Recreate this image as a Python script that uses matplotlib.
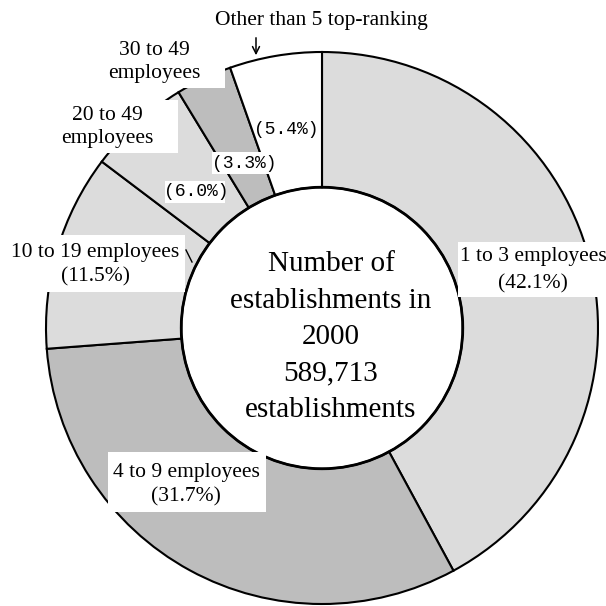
import numpy as np
import matplotlib
matplotlib.use("Agg")
import matplotlib.pyplot as plt
from matplotlib.patches import Rectangle, Circle

# ====== Data =======
groups = ["1 to 3 employees", "4 to 9 employees", "10 to 19 employees",
          "20 to 49\nemployees", "30 to 49\nemployees", "Other than 5 top-ranking"]
shares = [42.1, 31.7, 11.5, 6.0, 3.3, 5.4]
total_2000 = 589713

colors = ["#dcdcdc", "#bdbdbd", "#dcdcdc", "#dcdcdc", "#bdbdbd", "#ffffff"]

H = 606  # canvas in pixels, y measured from the top

def Y(y):
    return H - y

# ====== Figure =======
fig = plt.figure(figsize=(6.06, 6.06), dpi=100)
ax = fig.add_axes([0, 0, 1, 1])

R = 276
ring = 0.49
centre = (322, Y(328))
ax.pie(shares, colors=colors, startangle=90, counterclock=False,
       center=centre, radius=R, frame=True,
       wedgeprops=dict(width=R * ring, edgecolor="black", linewidth=1.5))
# heavier rim round the hole
ax.add_patch(Circle(centre, R * (1 - ring), fc="none", ec="black", lw=2.0, zorder=2))
ax.set_xlim(0, H)
ax.set_ylim(0, H)
ax.set_aspect("equal")
ax.axis("off")

# white panels behind the labels (x0, y0, x1, y1 from top-left)
panels = [(458, 242, 606, 297), (108, 452, 266, 512), (0, 235, 185, 292),
          (55, 100, 178, 153), (95, 30, 225, 88),
          (165, 181, 225, 203), (212, 152, 277, 174)]
for x0, y0, x1, y1 in panels:
    ax.add_patch(Rectangle((x0, Y(y1)), x1 - x0, y1 - y0, fc="white", ec="none", zorder=3))

serif = dict(family="Liberation Serif", fontsize=15.5, ha="center", va="center",
             linespacing=1.4, zorder=4)

def pct(v):
    return "(%.1f%%)" % v

ax.text(533, Y(270), groups[0] + "\n" + pct(shares[0]), **dict(serif, linespacing=1.6))
ax.text(186, Y(485), groups[1] + "\n" + pct(shares[1]), **serif)
ax.text(95, Y(265), groups[2] + "\n" + pct(shares[2]), **serif)
ax.text(107, Y(127), groups[3], **dict(serif, linespacing=1.25))
ax.text(154, Y(62), groups[4], **dict(serif, linespacing=1.3))
ax.text(321, Y(20), groups[5], **serif)

# small slices get their share in a mono face
mono = dict(family="Liberation Mono", fontsize=13, ha="center", va="center", zorder=4)
ax.text(196, Y(192), pct(shares[3]), **mono)
ax.text(244, Y(163), pct(shares[4]), **mono)
ax.text(286, Y(129), pct(shares[5]), **mono)

# leader lines
ax.annotate("", xy=(256, Y(58)), xytext=(256, Y(35)),
            arrowprops=dict(arrowstyle="->,head_length=0.5,head_width=0.25", lw=1.1, color="black"),
            zorder=4)
ax.plot([186, 192], [Y(250), Y(262)], color="black", lw=1.0, zorder=4)

# centre caption
ax.text(331, Y(337),
        "Number of\nestablishments in\n2000\n{:,}\nestablishments".format(total_2000),
        family="Liberation Serif", fontsize=21, ha="center", va="center",
        linespacing=1.52, zorder=4)

fig.savefig("out.png", dpi=100, facecolor="white")
